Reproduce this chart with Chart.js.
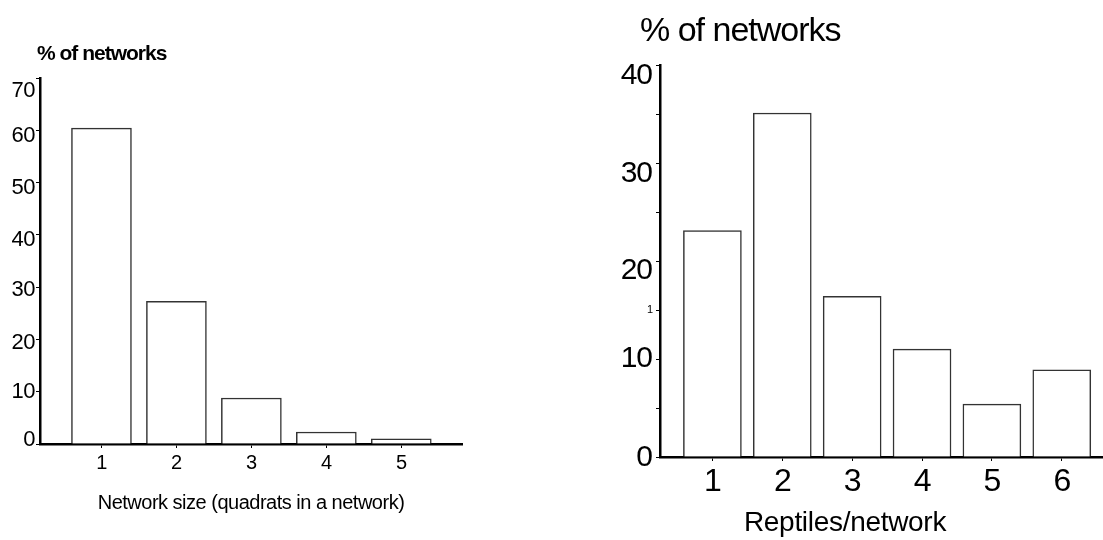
<!DOCTYPE html>
<html>
<head>
<meta charset="utf-8">
<script src="https://cdn.jsdelivr.net/npm/chart.js@4/dist/chart.umd.min.js"></script>
<style>
  html, body { margin: 0; padding: 0; background: #fff; }
  #wrap { position: relative; width: 1103px; height: 540px; overflow: hidden; }
  canvas { position: absolute; top: 0; }
  #c1 { left: 0; }
  #c2 { left: 560px; }
</style>
</head>
<body>
<div id="wrap">
  <canvas id="c1" width="560" height="540" style="width:560px;height:540px"></canvas>
  <canvas id="c2" width="543" height="540" style="width:543px;height:540px"></canvas>
</div>
<script>
// ---------- DATA ----------
// Left chart: network size
const sizeCategories = [1, 2, 3, 4, 5];
const sizePercent = [60.4, 27.3, 8.8, 2.3, 1.0];
const sizeYTickValues = [0, 10, 20, 30, 40, 50, 60, 70];
const sizeYTickLabels = ['0', '10', '20', '30', '40', '50', '60', '70'];
const sizeXTickLabels = ['1', '2', '3', '4', '5'];
const sizeHeader = '% of networks';
const sizeXTitle = 'Network size (quadrats in a network)';

// Right chart: reptiles per network
const reptCategories = [1, 2, 3, 4, 5, 6];
const reptPercent = [23.1, 35.1, 16.4, 11.0, 5.4, 8.9];
const reptYTickValues = [0, 5, 10, 15, 20, 25, 30, 35, 40];
const reptYTickLabels = ['0', '', '10', '1', '20', '', '30', '', '40'];
const reptXTickLabels = ['1', '2', '3', '4', '5', '6'];
const reptHeader = '% of networks';
const reptXTitle = 'Reptiles/network';

// ---------- STYLE (label nudges, in px, matching the scanned original) ----------
const sizeYLabelNudge = { 0: -4, 10: 0, 20: 4, 30: 3, 40: 5, 50: 5, 60: 6, 70: 13 };
const reptYLabelNudge = { 0: 1, 10: 0, 20: 10, 30: 11, 40: 11 };

// ---------- HELPERS ----------
const FAMILY = '"Liberation Sans", Arial, Helvetica, sans-serif';
Chart.defaults.font.family = FAMILY;
Chart.defaults.color = '#000';

const headerPlugin = {
  id: 'headerText',
  beforeDraw(chart) {
    const o = chart.options.plugins.headerText;
    chart.ctx.letterSpacing = o.axisSpacing || '0px';
  },
  afterDraw(chart) {
    const o = chart.options.plugins.headerText;
    const ctx = chart.ctx;
    (o.items || []).forEach(it => {
      ctx.save();
      ctx.letterSpacing = it.spacing;
      ctx.font = it.font;
      ctx.fillStyle = '#000';
      ctx.textAlign = it.align;
      ctx.textBaseline = 'middle';
      ctx.fillText(it.text, chart.chartArea.left + it.dx, it.y);
      ctx.restore();
    });
  }
};

function nudgedLabel(text, shift) {
  if (!text) return text;
  if (shift > 0) return ['', text];
  if (shift < 0) return [text, ''];
  return text;
}

function makeChart(id, cfg) {
  const pts = cfg.categories.map((c, i) => ({ x: c, y: cfg.values[i] }));
  return new Chart(document.getElementById(id), {
    type: 'bar',
    data: {
      datasets: [{
        data: pts,
        backgroundColor: '#ffffff',
        borderColor: '#333333',
        borderWidth: 1.5,
        barThickness: cfg.barThickness
      }]
    },
    plugins: [headerPlugin],
    options: {
      responsive: false,
      animation: false,
      devicePixelRatio: 1,
      layout: { padding: cfg.padding },
      plugins: {
        legend: { display: false },
        tooltip: { enabled: false },
        headerText: cfg.header
      },
      scales: {
        x: {
          type: 'linear',
          min: cfg.xMin,
          max: cfg.xMax,
          offset: false,
          afterFit: s => { s.height = cfg.xHeight; },
          afterBuildTicks: s => { s.ticks = cfg.categories.map(v => ({ value: v })); },
          border: { display: true, color: '#000', width: 2.5 },
          grid: { display: true, offset: false, drawOnChartArea: false, drawTicks: true, tickLength: 4, tickColor: '#000', lineWidth: 1 },
          ticks: {
            autoSkip: false,
            maxRotation: 0,
            padding: cfg.xTickPadding,
            font: { size: cfg.xTickSize },
            color: '#000',
            callback: (v, i) => cfg.xTickLabels[i]
          },
          title: {
            display: cfg.xTitleOnScale,
            text: cfg.xTitle,
            font: { size: cfg.xTitleSize },
            color: '#000',
            padding: { top: 0, bottom: cfg.xTitlePadBottom }
          }
        },
        y: {
          type: 'linear',
          min: 0,
          max: cfg.yMax,
          afterFit: s => { s.width = cfg.yWidth; },
          afterBuildTicks: s => { s.ticks = cfg.yTickValues.map(v => ({ value: v })); },
          border: { display: true, color: '#000', width: 2.5 },
          grid: { display: true, drawOnChartArea: false, drawTicks: true, tickLength: 4, tickColor: '#000', lineWidth: 1 },
          ticks: {
            autoSkip: false,
            padding: cfg.yTickPadding,
            color: '#000',
            font: c => {
              const v = c.tick ? c.tick.value : 0;
              const shift = cfg.yNudge[v] || 0;
              const size = cfg.ySmallValues.includes(v) ? cfg.ySmallSize : cfg.yTickSize;
              return { size, lineHeight: shift ? (2 * Math.abs(shift)) + 'px' : 1.2 };
            },
            callback: (v, i) => nudgedLabel(cfg.yTickLabels[i], cfg.yNudge[v] || 0)
          }
        }
      }
    }
  });
}

// Left chart
makeChart('c1', {
  categories: sizeCategories,
  values: sizePercent,
  barThickness: 60,
  padding: { left: 0, top: 78, right: 98, bottom: 0 },
  xMin: 0.18, xMax: 5.81,
  xHeight: 96,
  xTickPadding: 3,
  xTickSize: 20,
  xTickLabels: sizeXTickLabels,
  xTitle: sizeXTitle,
  xTitleOnScale: true,
  xTitleSize: 20,
  xTitlePadBottom: 25,
  yMax: 70,
  yWidth: 40,
  yTickValues: sizeYTickValues,
  yTickLabels: sizeYTickLabels,
  yTickPadding: 1,
  yTickSize: 22,
  ySmallValues: [],
  ySmallSize: 11,
  yNudge: sizeYLabelNudge,
  header: {
    axisSpacing: '-0.5px',
    items: [
      { text: sizeHeader, font: 'bold 21px ' + FAMILY, spacing: '-1px', dx: -3, y: 54, align: 'left' }
    ]
  }
});

// Right chart
makeChart('c2', {
  categories: reptCategories,
  values: reptPercent,
  barThickness: 58,
  padding: { left: 0, top: 65, right: 0, bottom: 0 },
  xMin: 0.25, xMax: 6.59,
  xHeight: 83,
  xTickPadding: 2,
  xTickSize: 32,
  xTickLabels: reptXTickLabels,
  xTitle: reptXTitle,
  xTitleOnScale: false,
  xTitleSize: 28,
  xTitlePadBottom: 1,
  yMax: 40,
  yWidth: 100,
  yTickValues: reptYTickValues,
  yTickLabels: reptYTickLabels,
  yTickPadding: 4,
  yTickSize: 30,
  ySmallValues: [15],
  ySmallSize: 11,
  yNudge: reptYLabelNudge,
  header: {
    axisSpacing: '-1px',
    items: [
      { text: reptHeader, font: '34px ' + FAMILY, spacing: '-1px', dx: -20, y: 32, align: 'left' },
      { text: reptXTitle, font: '28px ' + FAMILY, spacing: '-0.3px', dx: 185, y: 523, align: 'center' }
    ]
  }
});
</script>
</body>
</html>
